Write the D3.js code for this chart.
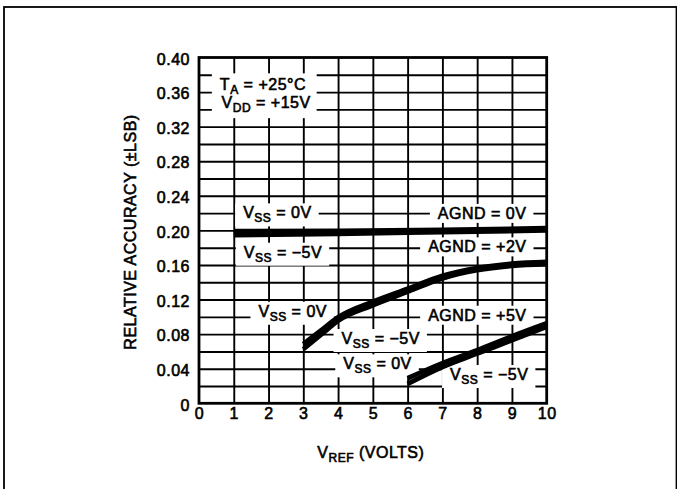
<!DOCTYPE html>
<html>
<head>
<meta charset="utf-8">
<script src="https://cdn.jsdelivr.net/npm/d3@7.9.0/dist/d3.min.js"></script>
<style>
  body { margin: 0; background: #fff; }
  svg text {
    font-family: "Liberation Sans", Arial, Helvetica, sans-serif;
    font-size: 16px;
    letter-spacing: 0.5px;
    fill: #000;
    stroke: #000;
    stroke-width: 0.6px;
  }
</style>
</head>
<body>
<svg width="677" height="489"></svg>
<script>
// axis ticks
const xTicks = [0, 1, 2, 3, 4, 5, 6, 7, 8, 9, 10];
const yTicks = [0, 0.04, 0.08, 0.12, 0.16, 0.20, 0.24, 0.28, 0.32, 0.36, 0.40];
const yTickLabels = ["0", "0.04", "0.08", "0.12", "0.16", "0.20", "0.24", "0.28", "0.32", "0.36", "0.40"];
const yGrid = [0.02, 0.04, 0.06, 0.08, 0.10, 0.12, 0.14, 0.16, 0.18, 0.20, 0.22, 0.24, 0.26, 0.28, 0.30, 0.32, 0.34, 0.36, 0.38];

// AGND = 0V (Vss = 0V / Vss = -5V)
const agnd0X = [1, 4, 7, 10];
const agnd0Upper = [0.199, 0.1995, 0.2005, 0.2025];
const agnd0Lower = [0.1945, 0.196, 0.198, 0.200];

// AGND = +2V
const agnd2X = [3, 3.5, 4, 5, 6, 7, 8, 9, 10];
const agnd2Upper = [0.0685, 0.084, 0.0995, 0.1175, 0.1325, 0.1475, 0.1565, 0.1615, 0.1635];
const agnd2Lower = [0.0625, 0.079, 0.0955, 0.1135, 0.129, 0.1445, 0.154, 0.159, 0.161];

// AGND = +5V
const agnd5X = [6, 7, 8, 9, 10];
const agnd5Upper = [0.029, 0.0465, 0.0615, 0.0775, 0.0925];
const agnd5Lower = [0.0225, 0.042, 0.0575, 0.0730, 0.0885];

const series = [
  [agnd0X, agnd0Upper], [agnd0X, agnd0Lower],
  [agnd2X, agnd2Upper], [agnd2X, agnd2Lower],
  [agnd5X, agnd5Upper], [agnd5X, agnd5Lower]
];

// annotations: [x, y] in data units = left edge / baseline; "_" marks a subscript part
const notes = [
  {at: [0.60, 0.362], parts: ["T", "_A", " = +25°C"], group: "cond"},
  {at: [0.65, 0.3414], parts: ["V", "_DD", " = +15V"], group: "cond"},
  {at: [1.27, 0.2139], parts: ["V", "_SS", " = 0V"]},
  {at: [6.87, 0.2133], parts: ["AGND = 0V"]},
  {at: [1.29, 0.1684], parts: ["V", "_SS", " = −5V"]},
  {at: [6.59, 0.1746], parts: ["AGND = +2V"]},
  {at: [1.71, 0.1001], parts: ["V", "_SS", " = 0V"]},
  {at: [6.59, 0.0955], parts: ["AGND = +5V"]},
  {at: [4.10, 0.0686], parts: ["V", "_SS", " = −5V"]},
  {at: [4.15, 0.0393], parts: ["V", "_SS", " = 0V"]},
  {at: [7.22, 0.0269], parts: ["V", "_SS", " = −5V"]}
];

const svg = d3.select("svg");
const margin = {left: 199, top: 57.5, right: 130.3, bottom: 85.7};
const width = 677 - margin.left - margin.right,
      height = 489 - margin.top - margin.bottom;

// page frame
svg.append("rect")
  .attr("x", 4).attr("y", 7).attr("width", 672.5).attr("height", 500)
  .attr("fill", "none").attr("stroke", "#000").attr("stroke-width", 1.8);

const g = svg.append("g").attr("transform", `translate(${margin.left},${margin.top})`);

const x = d3.scaleLinear().domain([0, 10]).range([0, width]);
const y = d3.scaleLinear().domain([0, 0.4]).range([height, 0]);

// grid
g.append("g")
  .call(d3.axisLeft(y).tickValues(yGrid).tickSize(-width).tickFormat(""))
  .call(s => s.select(".domain").remove())
  .selectAll("line").attr("stroke", "#000").attr("stroke-width", 1.9);

g.append("g")
  .attr("transform", `translate(0,${height})`)
  .call(d3.axisBottom(x).tickValues(xTicks.slice(1, -1)).tickSize(-height).tickFormat(""))
  .call(s => s.select(".domain").remove())
  .selectAll("line").attr("stroke", "#000").attr("stroke-width", 1.9);

// white boxes behind annotations
const boxLayer = g.append("g");
const noteLayer = g.append("g");

function addText(n) {
  const t = noteLayer.append("text")
    .attr("x", x(n.at[0])).attr("y", y(n.at[1]));
  let down = false;
  n.parts.forEach(p => {
    if (p.startsWith("_")) {
      t.append("tspan").attr("dy", 4).style("font-size", "12px").text(p.slice(1));
      down = true;
    } else {
      t.append("tspan").attr("dy", down ? -4 : 0).text(p);
      down = false;
    }
  });
  return t;
}

const condBoxes = [];
notes.forEach(n => {
  const t = addText(n);
  const b = t.node().getBBox();
  if (n.group === "cond") { condBoxes.push(b); return; }
  boxLayer.append("rect")
    .attr("x", b.x - 8).attr("y", b.y - 1)
    .attr("width", b.width + 15).attr("height", b.height + 2)
    .attr("fill", "#fff");
});
if (condBoxes.length) {
  const x0 = d3.min(condBoxes, b => b.x) - 8, x1 = d3.max(condBoxes, b => b.x + b.width) + 6;
  const y0 = d3.min(condBoxes, b => b.y) - 3, y1 = d3.max(condBoxes, b => b.y + b.height) + 3;
  boxLayer.append("rect").attr("x", x0).attr("y", y0)
    .attr("width", x1 - x0).attr("height", y1 - y0).attr("fill", "#fff");
}

// plot frame
g.append("rect")
  .attr("width", width).attr("height", height)
  .attr("fill", "none").attr("stroke", "#000").attr("stroke-width", 2.8);

// curves
const line = d3.line()
  .x(d => x(d[0])).y(d => y(d[1]))
  .curve(d3.curveMonotoneX);

series.forEach(([xs, ys]) => {
  g.append("path")
    .datum(xs.map((v, i) => [v, ys[i]]))
    .attr("fill", "none")
    .attr("stroke", "#000")
    .attr("stroke-width", 4.8)
    .attr("d", line);
});

// tick labels
g.append("g")
  .attr("transform", `translate(0,${height})`)
  .call(d3.axisBottom(x).tickValues(xTicks).tickSize(0).tickPadding(4).tickFormat(d3.format("d")))
  .call(s => s.select(".domain").remove())
  .selectAll("text").attr("font-size", null).attr("font-family", null);

g.append("g")
  .call(d3.axisLeft(y).tickValues(yTicks).tickSize(0).tickPadding(9)
    .tickFormat((d, i) => yTickLabels[i]))
  .call(s => s.select(".domain").remove())
  .selectAll("text").attr("dy", "0.42em").attr("font-size", null).attr("font-family", null);

// axis titles
const xt = svg.append("text")
  .attr("x", margin.left + x(5) - 2).attr("y", 457.5)
  .attr("text-anchor", "middle");
xt.append("tspan").text("V");
xt.append("tspan").attr("dy", 4).style("font-size", "12px").text("REF");
xt.append("tspan").attr("dy", -4).text(" (VOLTS)");

svg.append("text")
  .attr("transform", "translate(136,232) rotate(-90)")
  .attr("text-anchor", "middle")
  .text("RELATIVE ACCURACY (±LSB)");
</script>
</body>
</html>
